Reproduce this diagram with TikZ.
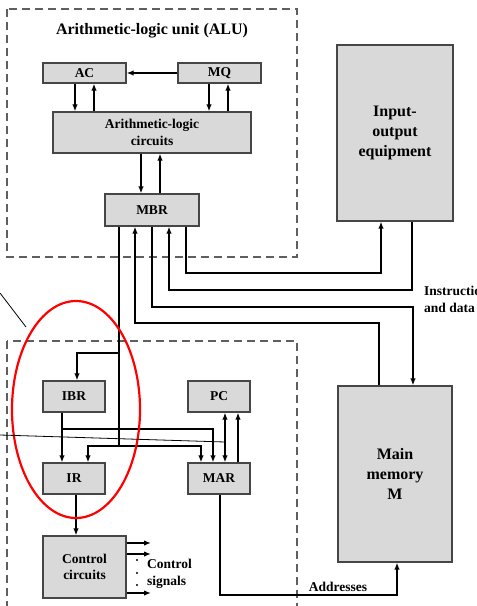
\documentclass[tikz,border=0pt]{standalone}
\usepackage{fontspec}
\setmainfont{Liberation Serif}
\usetikzlibrary{arrows.meta,positioning,calc}
\definecolor{BoxGray}{RGB}{217,217,217}
\definecolor{EdgeGray}{RGB}{70,70,70}
\definecolor{DashGray}{RGB}{95,95,95}
\tikzset{
  reg/.style={draw=EdgeGray,fill=BoxGray,line width=1.2pt,inner sep=0pt,
    font=\fontsize{13.5}{16.5}\selectfont\bfseries,align=center},
  bigbox/.style={reg,font=\fontsize{16}{20}\selectfont\bfseries},
  arrow/.style={-{Latex[length=7pt,width=5.5pt]},line width=1.8pt},
  twoway/.style={{Latex[length=7pt,width=5.5pt]}-{Latex[length=7pt,width=5.5pt]},line width=1.8pt},
  bus/.style={line width=1.8pt},
  dashframe/.style={draw=DashGray,line width=1.3pt,dash pattern=on 8pt off 5pt},
  note/.style={font=\fontsize{13.5}{17}\selectfont\bfseries,align=left,inner sep=0pt}
}
\begin{document}
\begin{tikzpicture}[x=1pt,y=-1pt]
  \useasboundingbox (0,0) rectangle (477,606);
  % dashed frames
  \draw[dashframe] (7,9) rectangle (297,257);
  \draw[dashframe] (7,341) rectangle (297,630);
  \node[font=\fontsize{16}{20}\selectfont\bfseries] (alutitle) at (152,31) {Arithmetic-logic unit (ALU)};
  % ALU registers
  \node[reg,minimum width=83pt,minimum height=20pt] (AC) at (84.5,73) {AC};
  \node[reg,minimum width=83pt,minimum height=20pt] (MQ) at (219.5,73) {MQ};
  \node[reg,minimum width=198pt,minimum height=41pt] (ALC) at (152,132.5) {Arithmetic-logic\\circuits};
  \node[reg,minimum width=94pt,minimum height=32pt] (MBR) at (152,210) {MBR};
  % outside units
  \node[bigbox,minimum width=116pt,minimum height=176pt] (IO) at (395,133) {Input-\\output\\equipment};
  \node[bigbox,minimum width=114pt,minimum height=176pt] (MEM) at (395,474) {Main\\memory\\M};
  % program control unit
  \node[reg,minimum width=62pt,minimum height=31pt] (IBR) at (74,396.5) {IBR};
  \node[reg,minimum width=62pt,minimum height=31pt] (PC) at (219,396.5) {PC};
  \node[reg,minimum width=62pt,minimum height=31pt] (IR) at (74,478.5) {IR};
  \node[reg,minimum width=62pt,minimum height=31pt] (MAR) at (219,478.5) {MAR};
  \node[reg,minimum width=83pt,minimum height=62pt] (CC) at (84.5,567) {Control\\circuits};
  % ALU connections
  \draw[arrow] (MQ.west) -- (AC.east);
  \draw[arrow] (AC.south -| 75,0) -- (ALC.north -| 75,0);
  \draw[arrow] (ALC.north -| 94,0) -- (AC.south -| 94,0);
  \draw[arrow] (MQ.south -| 209,0) -- (ALC.north -| 209,0);
  \draw[arrow] (ALC.north -| 228,0) -- (MQ.south -| 228,0);
  \draw[arrow] (ALC.south -| 141,0) -- (MBR.north -| 141,0);
  \draw[arrow] (MBR.north -| 160,0) -- (ALC.south -| 160,0);
  % instructions and data
  \draw[arrow] (MBR.south -| 186,0) |- (381,273) -- (IO.south -| 381,0);
  \draw[arrow] (IO.south -| 412,0) |- (169,290) -- (MBR.south -| 169,0);
  \draw[arrow] (MBR.south -| 152,0) |- (413,307) -- (MEM.north -| 413,0);
  \draw[arrow] (MEM.north -| 379,0) |- (135,323) -- (MBR.south -| 135,0);
  \node[note,anchor=west] (instr) at (424,299) {Instructions\\and data};
  % MBR to control unit
  \draw[bus] (MBR.south -| 119,0) -- (119,446);
  \draw[arrow] (119,353) -| (IBR.north -| 77,0);
  \draw[arrow] (119,446) -| (IR.north -| 88,0);
  \draw[arrow] (119,446) -| (MAR.north -| 201,0);
  \draw[arrow] (IBR.south -| 62,0) -- (IR.north -| 62,0);
  \draw[arrow] (62,429) -| (MAR.north -| 213,0);
  \draw[twoway] (MAR.north -| 225,0) -- (PC.south -| 225,0);
  \draw[arrow] (MAR.north -| 238,0) -- (PC.south -| 238,0);
  \draw[arrow] (IR.south -| 76,0) -- (CC.north -| 76,0);
  % control signals
  \foreach \y in {543,554,593}
    \draw[arrow] (CC.east |- 0,\y) -- (151,\y);
  \foreach \y in {560,573,585}
    \fill (137,\y) circle (1.2pt);
  \node[note,anchor=west] (signals) at (147,574) {Control\\signals};
  % addresses
  \draw[arrow] (MAR.south -| 220,0) |- (397,595) -- (MEM.south -| 397,0);
  \node[note] (addr) at (338,587) {Addresses};
  % annotations
  \draw[red,line width=2.2pt] (76,409.5) ellipse [x radius=64,y radius=108.5];
  \draw[line width=0.8pt] (0,293) -- (26,327);
  \draw[line width=0.8pt] (0,435) -- (225,442);
\end{tikzpicture}
\end{document}
